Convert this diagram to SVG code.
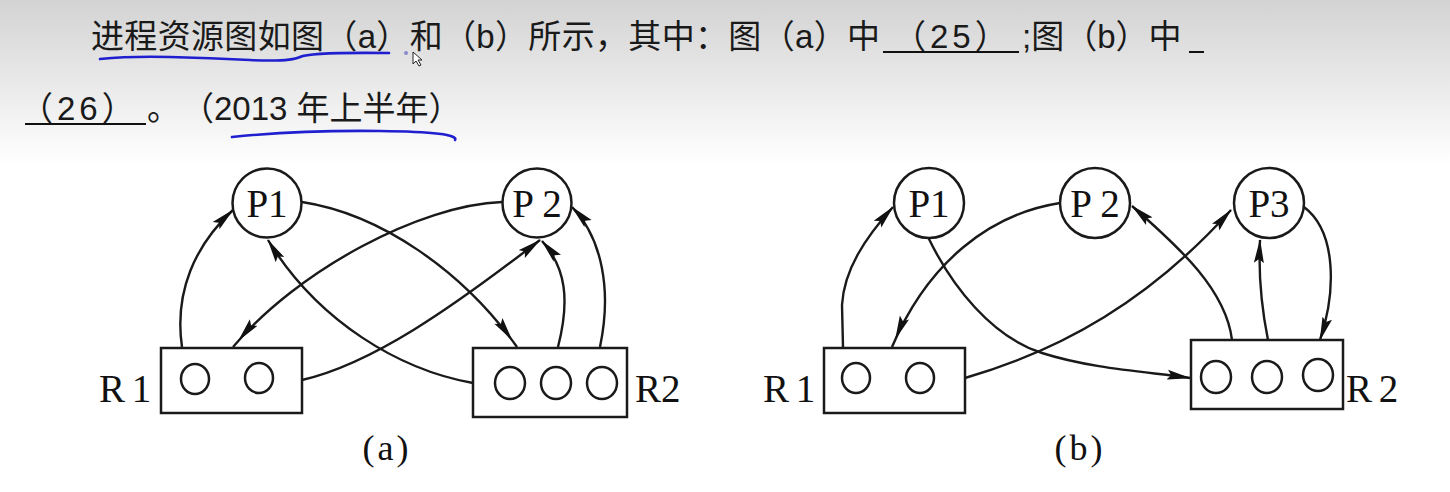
<svg xmlns="http://www.w3.org/2000/svg" width="1450" height="492" viewBox="0 0 1450 492">
<defs>
<linearGradient id="bg" x1="0" y1="0" x2="0" y2="1">
<stop offset="0" stop-color="#d3d3d3"/>
<stop offset="1" stop-color="#ffffff"/>
</linearGradient>
<marker id="arr" markerUnits="userSpaceOnUse" markerWidth="24" markerHeight="11" refX="23" refY="5.5" orient="auto" viewBox="0 0 24 11">
<path d="M0,0.5 L24,5.5 L0,10.5 L4,5.5 z" fill="#111"/>
</marker>
<marker id="arrOff" markerUnits="userSpaceOnUse" markerWidth="34" markerHeight="11" refX="32" refY="5.5" orient="auto" viewBox="0 0 34 11">
<path d="M0,0.5 L24,5.5 L0,10.5 L4,5.5 z" fill="#111"/>
</marker>
<style>
.q{font-family:"Liberation Sans","Noto Sans CJK SC",sans-serif;font-size:33px;fill:#1a1a1a}
.ul{stroke:#111;stroke-width:2}
.pen{fill:none;stroke:#1f1fd0;stroke-width:2.6;stroke-linecap:round}
.node{fill:#fff;stroke:#1a1a1a;stroke-width:2.5}
.dot{fill:none;stroke:#1a1a1a;stroke-width:2.5}
.lbl{font-family:"Liberation Serif",serif;font-size:39px;fill:#111}
.cap{font-family:"Liberation Serif",serif;font-size:36px;fill:#111}
.e{fill:none;stroke:#1a1a1a;stroke-width:2.4;marker-end:url(#arr)}
.eo{fill:none;stroke:#1a1a1a;stroke-width:2.4;marker-end:url(#arrOff)}
</style>
</defs>
<rect x="0" y="0" width="1450" height="492" fill="#ffffff"/>
<rect x="0" y="0" width="1450" height="165" fill="url(#bg)"/>

<g id="question">
<text class="q" x="91" y="48" textLength="789" lengthAdjust="spacing">进程资源图如图（a）和（b）所示，其中：图（a）中</text>
<text class="q" x="893" y="48" letter-spacing="4">（25）</text>
<line class="ul" x1="883" y1="52" x2="1019" y2="52"/>
<text class="q" x="1022" y="48">;图（b）中</text>
<line class="ul" x1="1189" y1="52" x2="1204" y2="52"/>
<text class="q" x="20" y="120" letter-spacing="4">（26）</text>
<line class="ul" x1="25" y1="124" x2="146" y2="124"/>
<text class="q" x="147" y="120">。</text>
<text class="q" x="181" y="120">（2013 年上半年）</text>
<path class="pen" d="M100,59 Q130,56 170,57 T250,60 T300,57 T389,53"/>
<path class="pen" d="M232,137 Q300,130 380,131 T455,140"/>
<circle cx="406" cy="53" r="2" fill="#8a8acc"/>
<path d="M413,52 L413,64 L416,61 L419,66 L421,65 L418,60 L422,60 z" fill="#fff" stroke="#222" stroke-width="1"/>
</g>

<g id="connectors">
<g id="edges-a">
<path class="e" d="M182,347 C174,292 195,245 233,210"/>
<path class="eo" d="M302,202 C380,214 462,270 517,347"/>
<path class="e" d="M473,383 C400,370 318,322 268,240"/>
<path class="eo" d="M502,202 C420,205 298,270 233,347"/>
<path class="e" d="M302,380 C372,364 452,308 540,240"/>
<path class="e" d="M558,347 C570,300 566,268 542,241"/>
<path class="e" d="M600,347 C612,290 602,238 572,207"/>
</g>
<g id="edges-b">
<path class="e" d="M843,347 L842,305 C844,270 865,238 893,207"/>
<path class="e" d="M928,237 C952,287 992,337 1042,353 S1150,372 1190,378"/>
<path class="eo" d="M1060,203 C990,214 928,262 892,347"/>
<path class="e" d="M965,378 C1062,350 1150,300 1231,210"/>
<path class="e" d="M1232,340 C1226,290 1180,248 1132,206"/>
<path class="e" d="M1268,340 C1262,310 1258,280 1260,240"/>
<path class="e" d="M1304,207 C1337,232 1336,292 1320,340"/>
</g>
</g>

<g id="a-P1"><circle class="node" cx="267" cy="203" r="34.5"/><text class="lbl" x="267" y="217" text-anchor="middle">P1</text></g>
<g id="a-P2"><circle class="node" cx="537" cy="203" r="34.5"/><text class="lbl" x="537" y="217" text-anchor="middle">P 2</text></g>
<g id="a-R1"><rect class="node" x="161" y="348" width="141" height="65"/><ellipse class="dot" cx="195" cy="379" rx="14" ry="15"/><ellipse class="dot" cx="259" cy="378" rx="14" ry="15"/><text class="lbl" x="99" y="402" word-spacing="-3">R 1</text></g>
<g id="a-R2"><rect class="node" x="473" y="348" width="154" height="69"/><ellipse class="dot" cx="510" cy="383" rx="15" ry="16"/><ellipse class="dot" cx="556" cy="383" rx="15" ry="16"/><ellipse class="dot" cx="602" cy="383" rx="15" ry="16"/><text class="lbl" x="635" y="402">R2</text></g>
<g id="a-caption"><text class="cap" x="387" y="460" text-anchor="middle" letter-spacing="3">(a)</text></g>

<g id="b-P1"><circle class="node" cx="929" cy="203" r="35"/><text class="lbl" x="929" y="217" text-anchor="middle">P1</text></g>
<g id="b-P2"><circle class="node" cx="1095" cy="203" r="35"/><text class="lbl" x="1095" y="217" text-anchor="middle">P 2</text></g>
<g id="b-P3"><circle class="node" cx="1269" cy="203" r="35"/><text class="lbl" x="1269" y="217" text-anchor="middle">P3</text></g>
<g id="b-R1"><rect class="node" x="824" y="348" width="141" height="65"/><ellipse class="dot" cx="856" cy="378" rx="14" ry="15"/><ellipse class="dot" cx="920" cy="378" rx="14" ry="15"/><text class="lbl" x="763" y="402" word-spacing="-3">R 1</text></g>
<g id="b-R2"><rect class="node" x="1191" y="340" width="152" height="69"/><ellipse class="dot" cx="1216" cy="377" rx="15" ry="16"/><ellipse class="dot" cx="1267" cy="377" rx="15" ry="16"/><ellipse class="dot" cx="1318" cy="375" rx="15" ry="16"/><text class="lbl" x="1346" y="402" word-spacing="-3">R 2</text></g>
<g id="b-caption"><text class="cap" x="1080" y="460" text-anchor="middle" letter-spacing="3">(b)</text></g>
</svg>
